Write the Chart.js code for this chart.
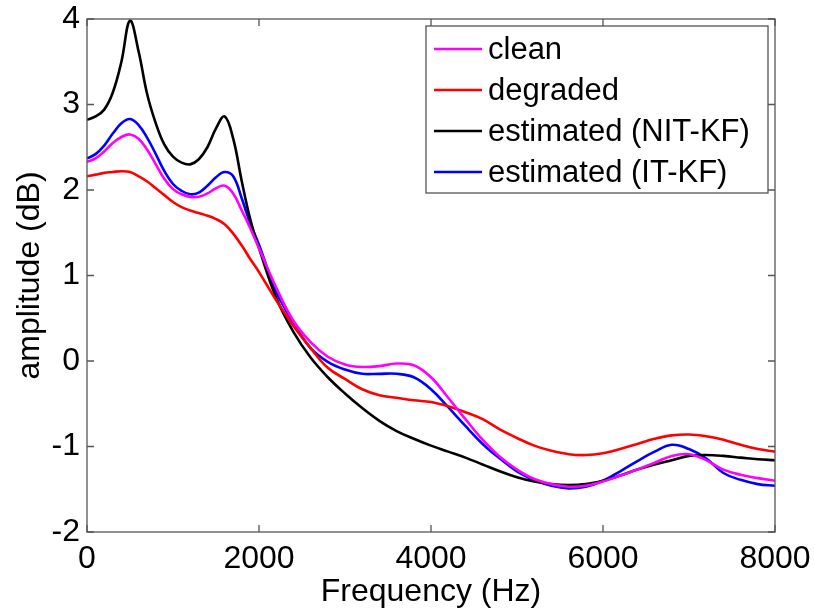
<!DOCTYPE html>
<html>
<head>
<meta charset="utf-8">
<script src="https://cdn.jsdelivr.net/npm/chart.js@4.4.1/dist/chart.umd.min.js"></script>
<style>
  html, body { margin: 0; padding: 0; background: #ffffff; }
  #wrap { width: 815px; height: 614px; }
</style>
</head>
<body>
<div id="wrap"><canvas id="c" width="815" height="614"></canvas></div>
<script>
// Frequency grid (Hz)
const freqs = [0,100,200,300,400,500,600,700,800,900,1000,1100,1200,1300,1400,1500,1600,1700,1800,1900,2000,
  2200,2400,2600,2800,3000,3200,3400,3600,3800,4000,4200,4400,4600,4800,5000,5200,5400,5600,5800,6000,
  6200,6400,6600,6800,7000,7200,7400,7600,7800,8000];

const clean = [2.33,2.37,2.45,2.55,2.62,2.65,2.60,2.47,2.30,2.13,2.01,1.95,1.92,1.92,1.96,2.02,2.05,1.96,1.76,1.55,1.32,
  0.86,0.47,0.22,0.05,-0.04,-0.07,-0.06,-0.03,-0.05,-0.19,-0.43,-0.68,-0.92,-1.12,-1.27,-1.38,-1.44,-1.47,-1.46,-1.41,
  -1.34,-1.27,-1.19,-1.11,-1.09,-1.16,-1.27,-1.33,-1.37,-1.40];

const degraded = [2.16,2.18,2.20,2.21,2.22,2.21,2.16,2.10,2.02,1.94,1.86,1.80,1.76,1.73,1.70,1.66,1.60,1.49,1.35,1.19,1.04,
  0.71,0.41,0.15,-0.08,-0.21,-0.33,-0.40,-0.43,-0.46,-0.48,-0.53,-0.60,-0.68,-0.80,-0.90,-0.99,-1.05,-1.09,-1.10,-1.08,
  -1.03,-0.97,-0.91,-0.87,-0.86,-0.88,-0.92,-0.98,-1.03,-1.06];

const estNIT = [2.82,2.86,2.94,3.14,3.50,3.98,3.62,3.12,2.78,2.53,2.39,2.32,2.30,2.36,2.50,2.72,2.86,2.60,2.10,1.65,1.32,
  0.74,0.34,0.04,-0.19,-0.38,-0.55,-0.70,-0.82,-0.91,-0.99,-1.06,-1.13,-1.21,-1.29,-1.36,-1.41,-1.44,-1.45,-1.44,-1.40,
  -1.34,-1.27,-1.21,-1.16,-1.11,-1.10,-1.11,-1.13,-1.15,-1.16];

const estIT = [2.37,2.42,2.52,2.66,2.78,2.83,2.76,2.61,2.42,2.22,2.07,1.99,1.95,1.97,2.05,2.15,2.21,2.16,1.90,1.60,1.36,
  0.81,0.45,0.15,-0.01,-0.10,-0.15,-0.15,-0.15,-0.19,-0.33,-0.54,-0.76,-0.97,-1.14,-1.29,-1.39,-1.46,-1.49,-1.47,-1.40,
  -1.29,-1.17,-1.06,-0.98,-1.03,-1.14,-1.31,-1.39,-1.44,-1.46];

const seriesNames = ['clean','degraded','estimated (NIT-KF)','estimated (IT-KF)'];
const seriesColors = ['#ff00ff','#ff0000','#000000','#0000ff'];
const seriesValues = [clean, degraded, estNIT, estIT];

const xTicks = [0,2000,4000,6000,8000];
const yTicks = [-2,-1,0,1,2,3,4];

const FONT = 'Liberation Sans, Arial, sans-serif';
const AXIS_COLOR = '#555555';

const datasets = seriesNames.map((name, k) => ({
  label: name,
  data: freqs.map((f, i) => ({ x: f, y: seriesValues[k][i] })),
  borderColor: seriesColors[k],
  backgroundColor: seriesColors[k],
  borderWidth: 2.6,
  pointRadius: 0,
  fill: false,
  tension: 0.4
}));

// Box + inward ticks (MATLAB style)
const boxPlugin = {
  id: 'boxTicks',
  afterDraw(chart) {
    const { ctx, chartArea: a } = chart;
    const xs = chart.scales.x, ys = chart.scales.y;
    ctx.save();
    ctx.strokeStyle = AXIS_COLOR;
    ctx.lineWidth = 1.3;
    ctx.strokeRect(a.left, a.top, a.right - a.left, a.bottom - a.top);
    const L = 7;
    ctx.beginPath();
    xs.ticks.forEach(t => {
      const px = xs.getPixelForValue(t.value);
      ctx.moveTo(px, a.bottom); ctx.lineTo(px, a.bottom - L);
      ctx.moveTo(px, a.top); ctx.lineTo(px, a.top + L);
    });
    ys.ticks.forEach(t => {
      const py = ys.getPixelForValue(t.value);
      ctx.moveTo(a.left, py); ctx.lineTo(a.left + L, py);
      ctx.moveTo(a.right, py); ctx.lineTo(a.right - L, py);
    });
    ctx.stroke();
    ctx.restore();
  }
};

// Legend box inside plot area, top-right
const legendPlugin = {
  id: 'boxLegend',
  afterDraw(chart) {
    const { ctx } = chart;
    const left = 426, top = 26, right = 768, bottom = 193;
    ctx.save();
    ctx.fillStyle = '#ffffff';
    ctx.fillRect(left, top, right - left, bottom - top);
    ctx.strokeStyle = AXIS_COLOR;
    ctx.lineWidth = 1.3;
    ctx.strokeRect(left, top, right - left, bottom - top);
    ctx.font = '31px ' + FONT;
    ctx.textBaseline = 'middle';
    ctx.textAlign = 'left';
    const rowY = [49, 90, 131, 172];
    chart.data.datasets.forEach((ds, i) => {
      const y = rowY[i];
      ctx.strokeStyle = ds.borderColor;
      ctx.lineWidth = 2.6;
      ctx.beginPath();
      ctx.moveTo(434, y); ctx.lineTo(482, y);
      ctx.stroke();
      ctx.fillStyle = '#000000';
      ctx.fillText(ds.label, 488, y + 1);
    });
    ctx.restore();
  }
};

new Chart(document.getElementById('c'), {
  type: 'line',
  data: { datasets },
  options: {
    responsive: false,
    animation: false,
    devicePixelRatio: 1,
    layout: { padding: { top: 19, right: 40, left: 0, bottom: 0 } },
    plugins: {
      legend: { display: false },
      tooltip: { enabled: false }
    },
    scales: {
      x: {
        type: 'linear',
        min: 0, max: 8000,
        afterBuildTicks(s) { s.ticks = xTicks.map(v => ({ value: v })); },
        afterFit(s) { s.height = 82; s.paddingLeft = 0; s.paddingRight = 0; },
        grid: { display: false, drawTicks: false },
        border: { display: false },
        ticks: { color: '#000', font: { family: FONT, size: 32 }, padding: 8, maxRotation: 0,
                 callback: v => String(v) },
        title: { display: true, text: 'Frequency (Hz)', color: '#000', font: { family: FONT, size: 32 }, padding: { top: 0, bottom: 3 } }
      },
      y: {
        type: 'linear',
        min: -2, max: 4,
        afterBuildTicks(s) { s.ticks = yTicks.map(v => ({ value: v })); },
        afterFit(s) { s.width = 87; s.paddingTop = 0; s.paddingBottom = 0; },
        grid: { display: false, drawTicks: false },
        border: { display: false },
        ticks: { color: '#000', font: { family: FONT, size: 32 }, padding: 7, callback: v => String(v) },
        title: { display: true, text: 'amplitude (dB)', color: '#000', font: { family: FONT, size: 32 }, padding: { top: 11, bottom: 0 } }
      }
    }
  },
  plugins: [boxPlugin, legendPlugin]
});
</script>
</body>
</html>
